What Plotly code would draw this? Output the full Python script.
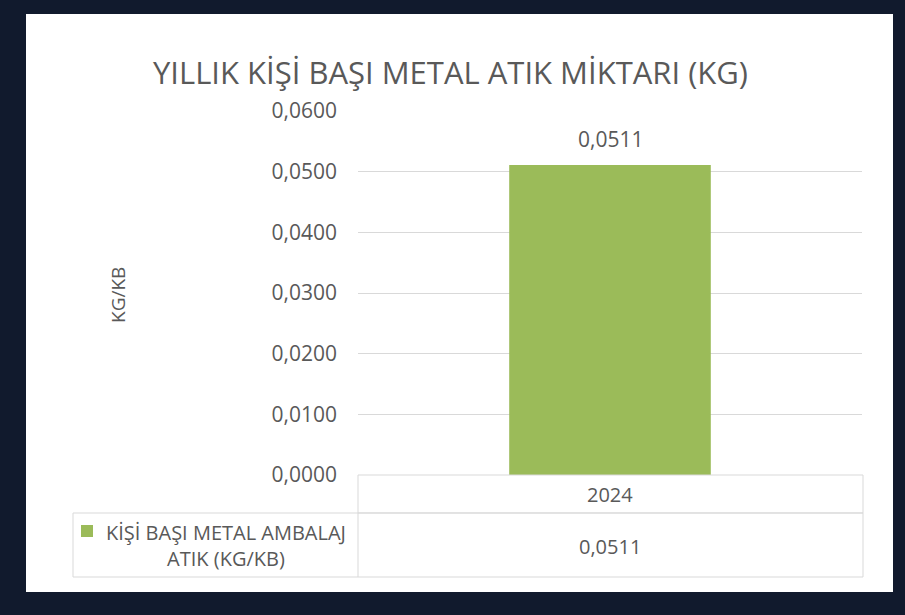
import plotly.graph_objects as go

# data
years = ["2024"]
metal_per_capita = [0.0511]
series_name = "KİŞİ BAŞI METAL AMBALAJ<br>ATIK (KG/KB)"
y_ticks = [0.0, 0.01, 0.02, 0.03, 0.04, 0.05, 0.06]

W, H = 905, 615
L, R, T, B = 358, 862, 111, 475  # plot area in pixels

def fx(px):
    return (px - L) / (R - L)

def fy(py):
    return (B - py) / (B - T)

def fmt(v):
    return f"{v:.4f}".replace(".", ",")

grey = "#595959"
line_c = "#d9d9d9"
green = "#9bbb59"
font = "Open Sans"

fig = go.Figure()
fig.add_trace(go.Bar(
    x=years, y=metal_per_capita, width=0.4,
    marker=dict(color=green, line=dict(width=0)),
    name="metal",
))

shapes = [
    # white card
    dict(type="rect", xref="paper", yref="paper", x0=fx(26), x1=fx(893), y0=fy(592), y1=fy(14),
         fillcolor="white", line=dict(width=0), layer="below"),
    # data table
    dict(type="rect", xref="paper", yref="paper", x0=fx(358), x1=fx(863), y0=fy(513), y1=fy(475),
         line=dict(color=line_c, width=1)),
    dict(type="rect", xref="paper", yref="paper", x0=fx(73), x1=fx(863), y0=fy(577), y1=fy(513),
         line=dict(color=line_c, width=1)),
    dict(type="line", xref="paper", yref="paper", x0=fx(358), x1=fx(358), y0=fy(577), y1=fy(513),
         line=dict(color=line_c, width=1)),
    # legend key
    dict(type="rect", xref="paper", yref="paper", x0=fx(81), x1=fx(93), y0=fy(537), y1=fy(525),
         fillcolor=green, line=dict(width=0)),
]

def note(text, x, y, size, xref="paper", yref="paper", **kw):
    return dict(text=text, xref=xref, yref=yref, x=x, y=y, xanchor="center", yanchor="middle",
                showarrow=False, font=dict(size=size, color=grey, family=font), **kw)

annotations = [
    note("YILLIK KİŞİ BAŞI METAL ATIK MİKTARI (KG)", fx(450), fy(72), 31),
    note("KG/KB", fx(118), fy(295), 19, textangle=-90),
    note(series_name, fx(226), fy(545), 20, align="center"),
]
for i, (yr, v) in enumerate(zip(years, metal_per_capita)):
    # value label above the bar
    annotations.append(note(fmt(v), i, v, 21, xref="x", yref="y", yshift=26))
    # data table cells
    annotations.append(note(yr, i, fy(494), 20, xref="x"))
    annotations.append(note(fmt(v), i, fy(546), 20, xref="x"))

fig.update_layout(
    width=W, height=H,
    margin=dict(l=L, r=W - R, t=T, b=H - B),
    paper_bgcolor="#111a2d", plot_bgcolor="white",
    showlegend=False,
    shapes=shapes, annotations=annotations,
    xaxis=dict(type="category", range=[-0.5, 0.5], showticklabels=False, showgrid=False,
               zeroline=False, showline=False, ticks=""),
    yaxis=dict(range=[0, 0.06], tickvals=y_ticks, ticktext=[fmt(v) for v in y_ticks],
               showgrid=True, gridcolor=line_c, gridwidth=1, zeroline=False, showline=False,
               ticks="", ticklabelstandoff=20,
               tickfont=dict(size=21, color=grey, family=font)),
    font=dict(family=font, color=grey),
)

fig.write_html("out.html", config={"displayModeBar": False},
               post_script="document.body.style.margin='0';")
